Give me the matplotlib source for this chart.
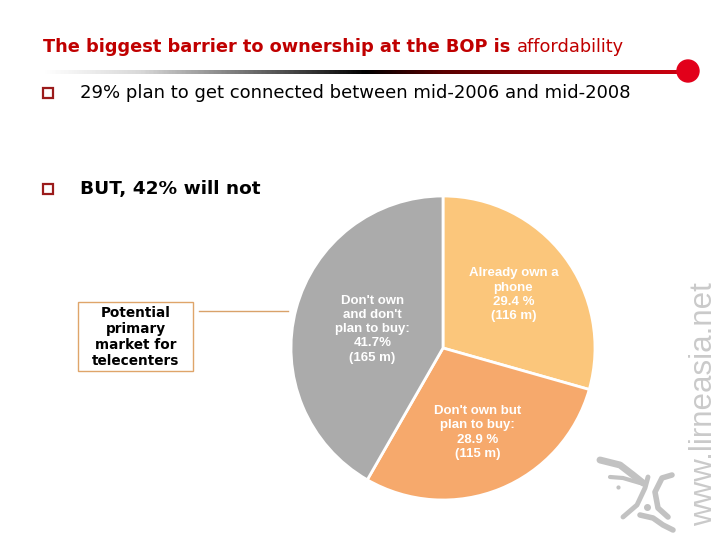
import numpy as np
import matplotlib.pyplot as plt
from matplotlib.patches import Rectangle, Circle
from matplotlib.colors import LinearSegmentedColormap

# --- Data ---
labels = ["Already own a\nphone", "Don't own but\nplan to buy:", "Don't own\nand don't\nplan to buy:"]
shares = [29.4, 28.9, 41.7]
share_text = ["29.4 %", "28.9 %", "41.7%"]
millions = [116, 115, 165]
colors = ["#FBC67B", "#F6A96C", "#ABABAB"]
label_radius = [0.58, 0.60, 0.48]

RED = "#C00000"
GREY = "#C2C2C2"

fig = plt.figure(figsize=(7.2, 5.4), dpi=100)

# --- Overlay axes in pixel coordinates (y down) ---
ov = fig.add_axes([0, 0, 1, 1])
ov.set_xlim(0, 720)
ov.set_ylim(540, 0)
ov.axis("off")

# title: bold part then regular part
t1 = ov.text(43, 47, "The biggest barrier to ownership at the BOP is ", color=RED,
             fontsize=12.8, fontweight="bold", va="center", ha="left")
fig.canvas.draw()
bb = t1.get_window_extent()
x_end = ov.transData.inverted().transform((bb.x1, 0))[0]
ov.text(x_end, 47, "affordability", color=RED, fontsize=12.8, va="center", ha="left")

# gradient rule
grad = LinearSegmentedColormap.from_list(
    "rule", [(0, "#FFFFFF"), (0.15, "#D8D8D8"), (0.5, "#000000"), (0.62, "#5A0000"), (1, "#D00010")])
ov.imshow(np.linspace(0, 1, 400)[None, :], cmap=grad, aspect="auto",
          extent=[43, 688, 74, 70], zorder=2)
ov.add_patch(Circle((688, 71), 11, color="#E2001A", zorder=3))

# bullets
for yb, txt, wt in [(93, "29% plan to get connected between mid-2006 and mid-2008", "normal"),
                    (189, "BUT, 42% will not", "bold")]:
    ov.add_patch(Rectangle((43, yb - 5), 10, 10, fill=False, edgecolor="#9B1B1B", lw=1.6))
    ov.text(80, yb, txt, fontsize=13 if wt == "normal" else 13.3, fontweight=wt,
            va="center", ha="left", color="black")

# callout box
ov.add_patch(Rectangle((78, 302), 115, 69, fill=False, edgecolor="#DFA56A", lw=1))
ov.text(135.5, 337, "Potential\nprimary\nmarket for\ntelecenters", fontsize=9.8,
        fontweight="bold", ha="center", va="center", linespacing=1.2)
ov.plot([199, 288], [311, 311], color="#D9A26A", lw=1)

# watermark
ov.text(704, 404, "www.lirneasia.net", rotation=90, fontsize=22.5, color="#CACACA",
        family="Liberation Sans", ha="center", va="center")

# logo strokes
strokes = [
    ([600, 620, 633, 643], [460, 465, 475, 483], 5),
    ([610, 623, 640], [477, 478, 483], 3),
    ([648, 645, 637, 623], [477, 488, 505, 517], 3.5),
    ([672, 662, 655, 658, 668], [475, 478, 492, 508, 517], 4),
    ([640, 653, 663, 673], [515, 518, 525, 530], 4),
]
for xs, ys, w in strokes:
    ov.plot(xs, ys, color=GREY, lw=w, solid_capstyle="round", solid_joinstyle="round")
ov.plot([618], [487], "o", color=GREY, ms=2)
ov.plot([647], [507], "o", color=GREY, ms=4)

# --- Pie ---
cx, cy, r = 443, 348, 152
ax = fig.add_axes([(cx - r) / 720, (540 - cy - r) / 540, 2 * r / 720, 2 * r / 540])
wedges, _ = ax.pie(shares, colors=colors, startangle=90, counterclock=False,
                   wedgeprops=dict(edgecolor="white", linewidth=2))
ax.set_xlim(-1, 1)
ax.set_ylim(-1, 1)
ax.set_aspect("equal")

for w, lab, st, m, rr in zip(wedges, labels, share_text, millions, label_radius):
    ang = np.radians((w.theta1 + w.theta2) / 2)
    ax.text(rr * np.cos(ang), rr * np.sin(ang), f"{lab}\n{st}\n({m} m)",
            ha="center", va="center", color="white", fontsize=9.5, fontweight="bold",
            family="Liberation Sans", linespacing=1.25)

fig.savefig("out.png", dpi=100)
